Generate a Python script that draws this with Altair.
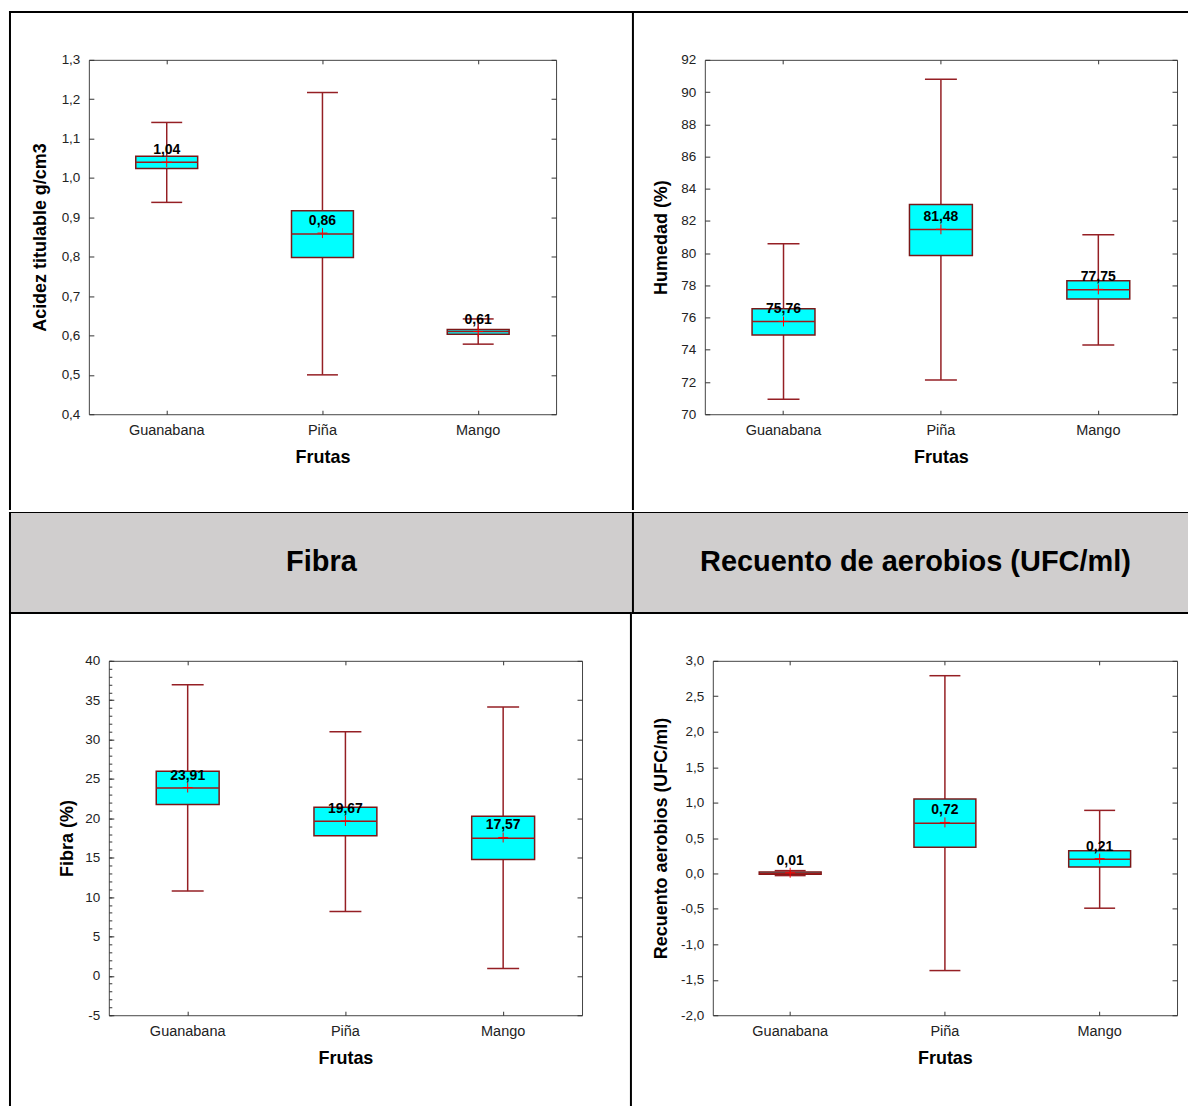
import altair as alt
import pandas as pd

# ---------------- data ----------------
frutas = ["Guanabana", "Piña", "Mango"]

acidez_min = [0.938, 0.500, 0.578]
acidez_q1 = [1.024, 0.798, 0.603]
acidez_med = [1.040, 0.858, 0.610]
acidez_q3 = [1.055, 0.917, 0.615]
acidez_max = [1.141, 1.217, 0.642]
acidez_mean = [1.04, 0.86, 0.61]
acidez_ticks = [0.4, 0.5, 0.6, 0.7, 0.8, 0.9, 1.0, 1.1, 1.2, 1.3]

humedad_min = [70.93, 72.13, 74.30]
humedad_q1 = [74.92, 79.86, 77.15]
humedad_med = [75.75, 81.47, 77.73]
humedad_q3 = [76.55, 83.02, 78.29]
humedad_max = [80.58, 90.80, 81.14]
humedad_mean = [75.76, 81.48, 77.75]
humedad_ticks = [70, 72, 74, 76, 78, 80, 82, 84, 86, 88, 90, 92]

fibra_min = [10.76, 8.18, 0.92]
fibra_q1 = [21.75, 17.78, 14.78]
fibra_med = [23.86, 19.63, 17.48]
fibra_q3 = [25.97, 21.41, 20.27]
fibra_max = [36.96, 31.00, 34.13]
fibra_mean = [23.91, 19.67, 17.57]
fibra_ticks = [-5, 0, 5, 10, 15, 20, 25, 30, 35, 40]
fibra_minor = [-5, -4, -3, -2, -1, 0, 1, 2, 3, 4, 5, 6, 7, 8, 9, 10, 11, 12, 13, 14,
               15, 16, 17, 18, 19, 20, 21, 22, 23, 24, 25, 26, 27, 28, 29, 30, 31,
               32, 33, 34, 35, 36, 37, 38, 39, 40]

recuento_min = [-0.03, -1.37, -0.49]
recuento_q1 = [-0.01, 0.37, 0.09]
recuento_med = [0.00, 0.71, 0.20]
recuento_q3 = [0.02, 1.05, 0.32]
recuento_max = [0.04, 2.79, 0.89]
recuento_mean = [0.01, 0.72, 0.21]
recuento_ticks = [-2.0, -1.5, -1.0, -0.5, 0.0, 0.5, 1.0, 1.5, 2.0, 2.5, 3.0]

titulo_fibra = "Fibra"
titulo_recuento = "Recuento de aerobios (UFC/ml)"

# ---------------- styling ----------------
FONT = "Liberation Sans"
WHISK = "#951F24"
BOXSTROKE = "#7A1818"
CYAN = "#00FFFF"
GRAY = "#D0CECE"
PLUS = "M-1,0L1,0M0,-1L0,1"


def make_df(mn, q1, med, q3, mx, mean):
    return pd.DataFrame({"Fruta": frutas, "min": mn, "q1": q1, "med": med,
                         "q3": q3, "max": mx, "mean": mean})


def lab_expr(dec):
    return ("(datum.value < 0 ? '-' : '') + replace(format(abs(datum.value), '.%df'), '.', ',')" % dec)


def tick_axis(orient, offset, vals, size):
    kw = dict(orient=orient, offset=offset, labels=False, ticks=True, tickSize=size,
              tickColor="#333333", tickWidth=1, domain=False, grid=False, title=None,
              minExtent=0, maxExtent=0)
    if vals is not None:
        kw["values"] = vals
    return alt.Axis(**kw)


def deco_data():
    return alt.Data(values=[{"d": 1}])


def rect(x, x2, y, y2, color):
    return alt.Chart(deco_data()).mark_rect(color=color, opacity=1).encode(
        x=alt.value(x), x2=alt.value(x2), y=alt.value(y), y2=alt.value(y2))


def header_text(x, y, txt):
    return alt.Chart(deco_data()).mark_text(
        font=FONT, fontSize=29, fontWeight="bold", color="black",
        align="center", baseline="middle").encode(
        x=alt.value(x), y=alt.value(y), text=alt.value(txt))


def spacer(w):
    return alt.Chart(alt.Data(values=[])).mark_rect().encode(
        x=alt.value(0), x2=alt.value(0), y=alt.value(0), y2=alt.value(0)
    ).properties(width=w, height=1,
                 view=alt.ViewBackground(stroke="transparent", fill="transparent"))


def panel(df, W, H, ymin, ymax, yvals, ydec, ytitle, ytitle_x, decos, minor=None):
    step = W / 3.0
    box = round(step * 0.4)
    cap = round(step * 0.2)
    ysc = alt.Scale(domain=[ymin, ymax], nice=False, zero=False)
    xsc = alt.Scale(paddingInner=0, paddingOuter=0)
    base = alt.Chart(df).transform_calculate(
        lbl="replace(format(datum.mean, '.2f'), '.', ',')")

    def X(axis):
        return alt.X("Fruta:N", sort=frutas, scale=xsc, axis=axis)

    x_main = alt.Axis(orient="bottom", ticks=False, tickSize=0, domain=False, grid=False,
                      labelAngle=0, labelFont=FONT, labelFontSize=14.5, labelColor="#222222",
                      labelBaseline="middle", labelPadding=16,
                      title="Frutas", titleFont=FONT, titleFontSize=18, titleFontWeight="bold",
                      titleColor="black", titleX=W / 2.0, titleY=43, titleAlign="center",
                      titleBaseline="middle")
    y_main = alt.Axis(orient="left", values=yvals, ticks=False, tickSize=0, domain=False,
                      grid=False, labelExpr=lab_expr(ydec), labelFont=FONT, labelFontSize=13.5,
                      labelColor="#222222", labelPadding=9,
                      title=ytitle, titleFont=FONT, titleFontSize=18, titleFontWeight="bold",
                      titleColor="black", titleX=ytitle_x, titleY=H / 2.0, titleAngle=270,
                      titleAlign="center", titleBaseline="middle")

    whisk = base.mark_rule(color=WHISK, strokeWidth=1.5).encode(
        x=X(x_main), y=alt.Y("min:Q", scale=ysc, axis=y_main), y2="max:Q")
    boxes = base.mark_bar(size=box, fill=CYAN, stroke=BOXSTROKE, strokeWidth=1.5,
                          opacity=1).encode(
        x=X(tick_axis("top", -H, None, 4)),
        y=alt.Y("q1:Q", scale=ysc, axis=tick_axis("right", -W, yvals, 5)), y2="q3:Q")
    cap_lo = base.mark_tick(size=cap, thickness=1.5, color=WHISK, opacity=1).encode(
        x=X(tick_axis("bottom", -H, None, 4)),
        y=alt.Y("min:Q", scale=ysc, axis=tick_axis("left", -W, yvals, 5)))
    cap_hi = base.mark_tick(size=cap, thickness=1.5, color=WHISK, opacity=1).encode(
        x=X(None),
        y=alt.Y("max:Q", scale=ysc,
                axis=(tick_axis("right", -W, minor, 3) if minor is not None else None)))
    med = base.mark_tick(size=box, thickness=1.5, color="#A01818", opacity=1).encode(
        x=X(None), y=alt.Y("med:Q", scale=ysc, axis=None))
    mean = base.mark_point(shape=PLUS, size=100, filled=False, stroke="#FF0000",
                           strokeWidth=1, opacity=1).encode(
        x=X(None), y=alt.Y("mean:Q", scale=ysc, axis=None))
    text = base.mark_text(font=FONT, fontSize=14, fontWeight="bold", color="black",
                          dy=-12, baseline="middle", align="center").encode(
        x=X(None), y=alt.Y("mean:Q", scale=ysc, axis=None), text="lbl:N")

    return alt.layer(whisk, boxes, cap_lo, cap_hi, med, mean, text, *decos).resolve_axis(
        x="independent", y="independent").properties(width=W, height=H)


# panel geometry (plot-area origins in page pixels)
# p1 (88,60) 468x355 ; p2 (705,60) 473x355 ; p3 (108,660) 474x355 ; p4 (713,660) 465x355
p1_decos = [
    rect(-80, 545, -49, -47, "black"),      # top border
    rect(-80, -78, -49, 451, "black"),      # left border
]
p2_decos = [
    rect(-72, 484, -49, -47, "black"),      # top border
    rect(-73, -71, -49, 451, "black"),      # divider
]
p3_decos = [
    rect(-100, 524, -149, -49, GRAY),       # header band
    rect(-100, 524, -149, -148, "black"),   # band top line
    rect(-100, 524, -49, -47, "black"),     # band bottom line
    rect(-100, -98, -149, 446, "black"),    # left border
    header_text(213, -99, titulo_fibra),
]
p4_decos = [
    rect(-81, 476, -149, -49, GRAY),
    rect(-81, 476, -149, -148, "black"),
    rect(-81, 476, -49, -47, "black"),
    rect(-81, -79, -149, -47, "black"),     # divider in band
    rect(-83, -81, -47, 446, "black"),      # divider below band
    header_text(203, -99, titulo_recuento),
]

p1 = panel(make_df(acidez_min, acidez_q1, acidez_med, acidez_q3, acidez_max, acidez_mean),
           468, 355, 0.4, 1.3, acidez_ticks, 1, "Acidez titulable  g/cm3", -48, p1_decos)
p2 = panel(make_df(humedad_min, humedad_q1, humedad_med, humedad_q3, humedad_max, humedad_mean),
           473, 355, 70, 92, humedad_ticks, 0, "Humedad (%)", -43, p2_decos)
p3 = panel(make_df(fibra_min, fibra_q1, fibra_med, fibra_q3, fibra_max, fibra_mean),
           474, 355, -5, 40, fibra_ticks, 0, "Fibra (%)", -41, p3_decos, minor=fibra_minor)
p4 = panel(make_df(recuento_min, recuento_q1, recuento_med, recuento_q3, recuento_max, recuento_mean),
           465, 355, -2.0, 3.0, recuento_ticks, 1, "Recuento aerobios (UFC/ml)", -51, p4_decos)

row1 = alt.hconcat(spacer(1), alt.hconcat(p1, p2, spacing=149, bounds="flush"),
                   spacing=0, bounds="flush")
row2 = alt.hconcat(spacer(21), alt.hconcat(p3, p4, spacing=131, bounds="flush"),
                   spacing=0, bounds="flush")

chart = alt.vconcat(row1, row2, spacing=0, bounds="full").properties(
    padding={"left": 8, "top": 9, "right": 0, "bottom": 0},
    background="white",
).configure_view(stroke="#444444", strokeWidth=1)

chart.save("out.html", embed_options={"renderer": "svg", "actions": False})
